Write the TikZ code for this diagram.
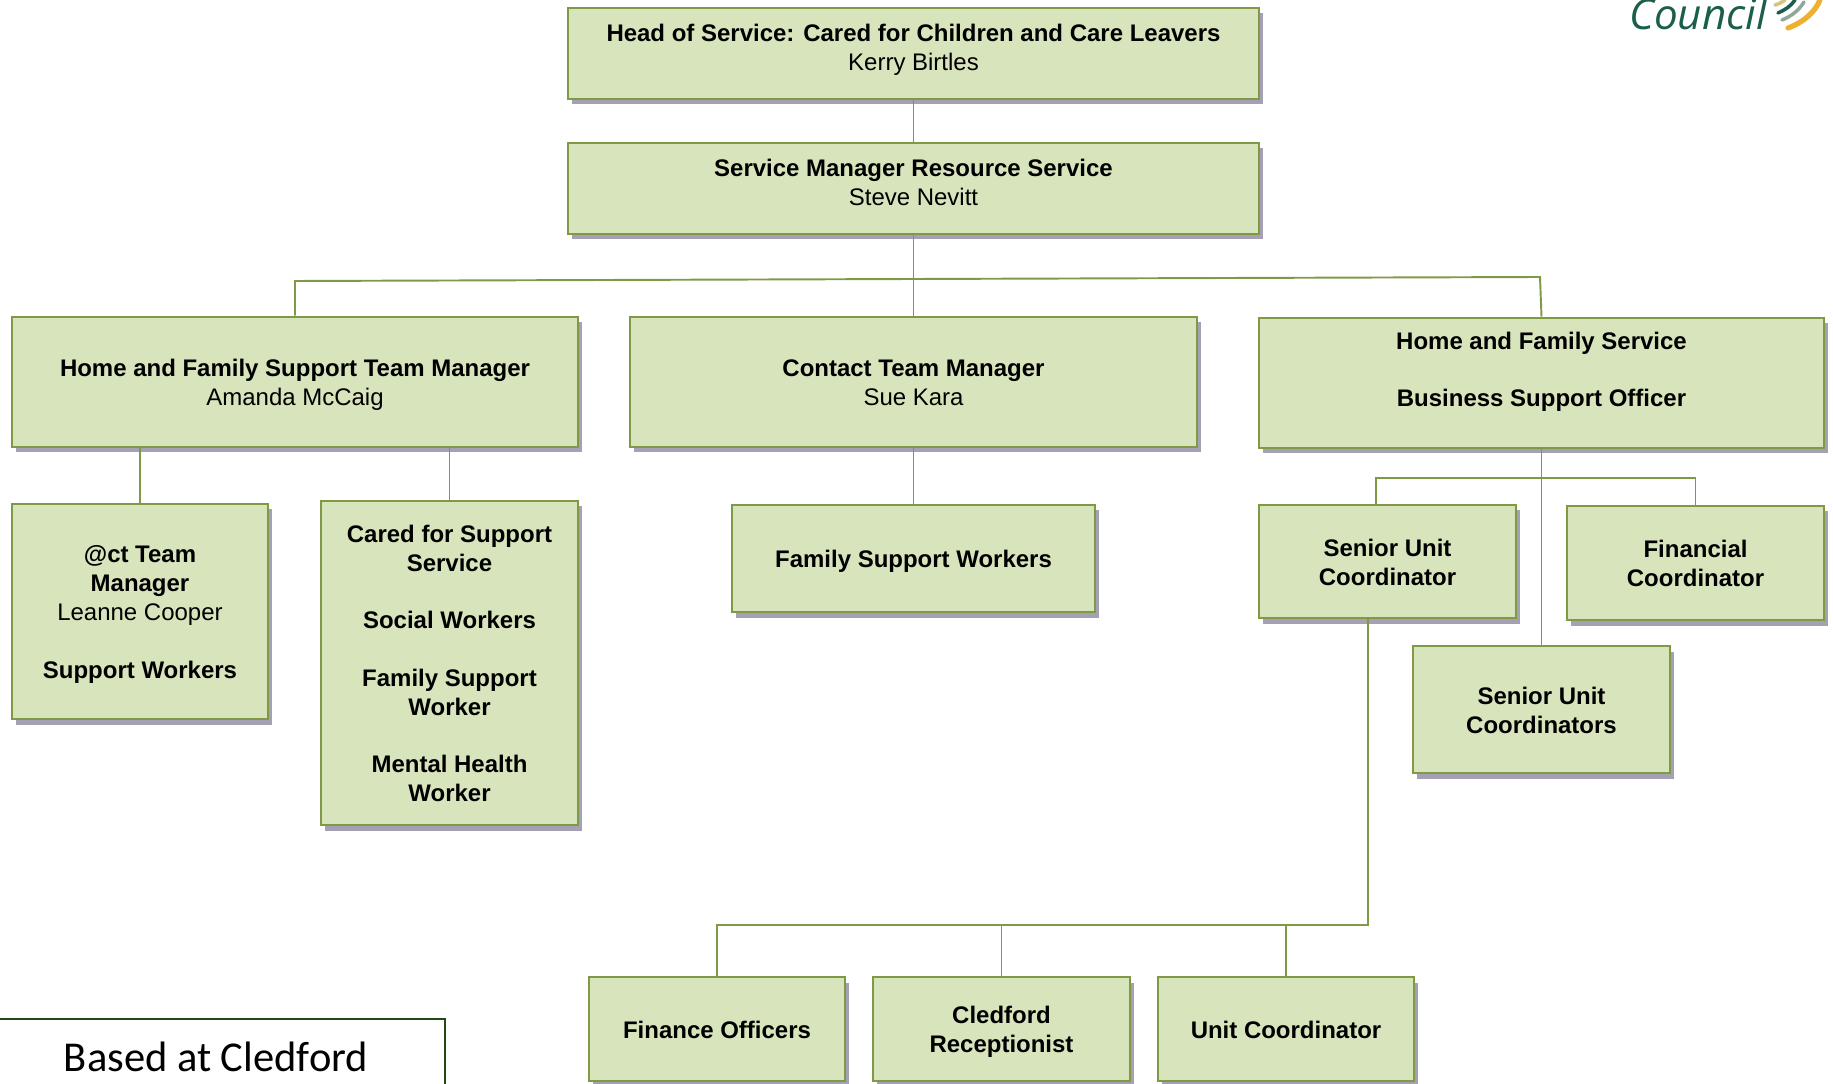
\documentclass[tikz,border=0pt]{standalone}
\usepackage{fontspec}
\setmainfont{Liberation Sans}
\newfontfamily\boxfont{Carlito}
\newfontfamily\logofont{Open Sans}
\usetikzlibrary{shadows}
\definecolor{boxfill}{HTML}{D8E4BC}
\definecolor{boxline}{HTML}{7F9A44}
\definecolor{boxshadow}{HTML}{A5A0B4}
\definecolor{logogreen}{HTML}{1B5E4B}
\definecolor{logogrey}{HTML}{8FA89A}
\definecolor{logotan}{HTML}{D9C27A}
\definecolor{logoorange}{HTML}{EDB02F}
\definecolor{framegreen}{HTML}{1F4A14}
\newcommand{\lift}[1]{\rule[-#1]{0pt}{0pt}}
\newcommand{\drop}{\rule{0pt}{15.3pt}}
\begin{document}
\begin{tikzpicture}[x=0.02cm, y=-0.02cm,
  post/.style={rectangle, draw=boxline, fill=boxfill, line width=1.5pt, align=center, inner sep=0pt,
    font=\fontsize{13.65}{16.4}\selectfont, execute at end node={\strut},
    drop shadow={shadow xshift=0.08cm, shadow yshift=-0.11cm, fill=boxshadow, opacity=1}},
  bold/.style={post, font=\fontsize{13.65}{16.4}\selectfont\bfseries},
  link/.style={draw=boxline, line width=1.1pt},
  arc/.style={line width=#1, line cap=round}]

\useasboundingbox (0,0) rectangle (1833,1084);

\begin{scope}
\clip (0,0) rectangle (1833,1084);
\node[text=logogreen, font=\logofont\itshape\fontsize{24}{24}\selectfont, anchor=base west, inner sep=0pt] (council) at (1629,29.5) {Council};
\draw[arc=3pt, color=logoorange] (1788,28) .. controls (1804,22) and (1815,12) .. (1820,0);
\draw[arc=2pt, color=logogrey] (1782,20) .. controls (1792,16) and (1799,10) .. (1804,2);
\draw[arc=2pt, color=logogreen] (1778,13) .. controls (1785,10) and (1791,6) .. (1795,0);
\draw[arc=2pt, color=logotan] (1775,5) .. controls (1779,4) and (1782,2) .. (1785,0);
\node[draw=framegreen, line width=0.8pt, minimum width=458*0.02cm, minimum height=162*0.02cm, inner sep=0pt,
  font=\boxfont\fontsize{24.2}{29}\selectfont] (based) at (216,1100) {Based at Cledford\lift{49pt}};
\end{scope}

% top of the chart
\node[post, minimum width=691*0.02cm, minimum height=91*0.02cm] (head) at (913.5,53.5) {\drop\textbf{Head of Service: Cared for Children and Care Leavers}\\Kerry Birtles\lift{12.8pt}};
\node[post, minimum width=691*0.02cm, minimum height=91*0.02cm] (manager) at (913.5,188.5) {\drop\textbf{Service Manager Resource Service}\\Steve Nevitt\lift{12.8pt}};
\node[post, minimum width=566*0.02cm, minimum height=130*0.02cm] (support) at (295,382) {\drop\textbf{Home and Family Support Team Manager}\\Amanda McCaig};
\node[post, minimum width=567*0.02cm, minimum height=130*0.02cm] (contact) at (913.5,382) {\drop\textbf{Contact Team Manager}\\Sue Kara};
\node[bold, minimum width=565*0.02cm, minimum height=130*0.02cm] (business) at (1541.5,383) {\drop Home and Family Service\\[16.4pt]Business Support Officer\lift{20.8pt}};

% second row
\node[post, minimum width=256*0.02cm, minimum height=215*0.02cm] (act) at (140,611.5) {\drop\textbf{@ct Team}\\\textbf{Manager}\\Leanne Cooper\\[16.4pt]\textbf{Support Workers}};
\node[bold, minimum width=257*0.02cm, minimum height=324*0.02cm] (cared) at (449.5,663) {\drop Cared for Support\\Service\\[16.4pt]Social Workers\\[16.4pt]Family Support\\Worker\\[16.4pt]Mental Health\\Worker};
\node[bold, minimum width=363*0.02cm, minimum height=107*0.02cm] (family) at (913.5,558.5) {\drop Family Support Workers};
\node[bold, minimum width=257*0.02cm, minimum height=113*0.02cm] (unita) at (1387.5,561.5) {\drop Senior Unit\\Coordinator};
\node[bold, minimum width=257*0.02cm, minimum height=114*0.02cm] (financial) at (1695.5,563) {\drop Financial\\Coordinator};
\node[bold, minimum width=257*0.02cm, minimum height=127*0.02cm] (unitb) at (1541.5,709.5) {\drop Senior Unit\\Coordinators};

% bottom row
\node[bold, minimum width=256*0.02cm, minimum height=104*0.02cm] (finance) at (717,1029) {\drop Finance Officers};
\node[bold, minimum width=257*0.02cm, minimum height=104*0.02cm] (cledford) at (1001.5,1029) {\drop Cledford\\Receptionist};
\node[bold, minimum width=256*0.02cm, minimum height=104*0.02cm] (unitc) at (1286,1029) {\drop Unit Coordinator};

% joints
\coordinate (ja) at (295,281);
\coordinate (jb) at (913.5,279);
\coordinate (jc) at (1540,277);
\coordinate (jd) at (1376,478);
\coordinate (jf) at (1695.5,478);
\coordinate (jg) at (1368,925);
\coordinate (jh) at (717,925);
\coordinate (ji) at (1001.5,925);
\coordinate (jj) at (1286,925);

\draw[link] (head) -- (manager);
\draw[link] (manager) -- (contact);
\draw[link] (support.north) -- (ja) -- (jb) -- (jc) -- (business.north);
\draw[link] (act.north |- support.south) -- (act);
\draw[link] (cared.north |- support.south) -- (cared);
\draw[link] (contact) -- (family);
\draw[link] (business) -- (unitb);
\draw[link] (unita.north -| jd) -- (jd) -- (jf) -- (financial);
\draw[link] (jg |- unita.south) -- (jg) -- (jh) -- (finance);
\draw[link] (ji) -- (cledford);
\draw[link] (jj) -- (unitc);
\end{tikzpicture}
\end{document}
